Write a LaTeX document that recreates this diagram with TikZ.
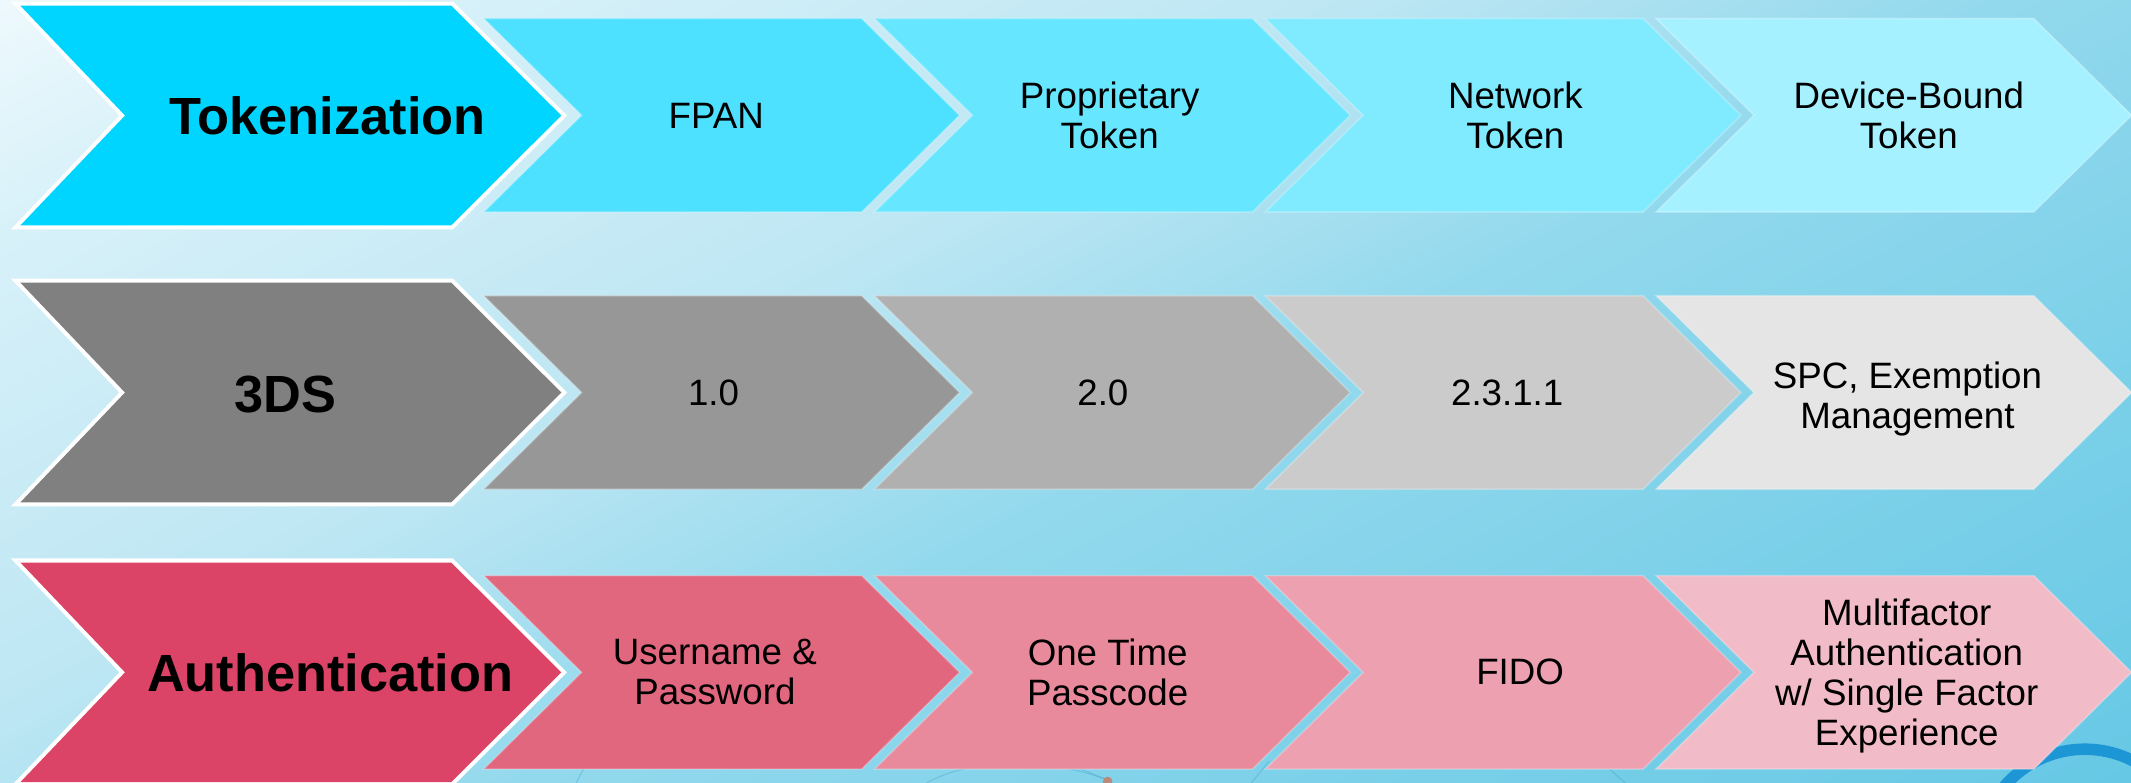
\documentclass[tikz,border=0pt]{standalone}
\usepackage{fontspec}
\setmainfont{Liberation Sans}

% background colours
\definecolor{bg0}{HTML}{EEF9FD}
\definecolor{bg1}{HTML}{D8F1F9}
\definecolor{bg2}{HTML}{BCE6F3}
\definecolor{bg3}{HTML}{93D9ED}
\definecolor{bg4}{HTML}{7ED1E9}
\definecolor{bg5}{HTML}{66C8E5}
% tokenization row
\definecolor{tok0}{HTML}{00D5FF}
\definecolor{tok1}{HTML}{4DE1FF}
\definecolor{tok2}{HTML}{66E6FF}
\definecolor{tok3}{HTML}{80EAFF}
\definecolor{tok4}{HTML}{A6F1FF}
% 3DS row
\definecolor{tds0}{HTML}{808080}
\definecolor{tds1}{HTML}{979797}
\definecolor{tds2}{HTML}{B0B0B0}
\definecolor{tds3}{HTML}{CBCBCB}
\definecolor{tds4}{HTML}{E5E5E5}
% authentication row
\definecolor{aut0}{HTML}{DB4466}
\definecolor{aut1}{HTML}{E1677F}
\definecolor{aut2}{HTML}{E88A9B}
\definecolor{aut3}{HTML}{EDA0B0}
\definecolor{aut4}{HTML}{F2BBC8}
% decorations
\definecolor{ringblue}{HTML}{1C96D4}
\definecolor{netline}{HTML}{3E9EC8}
\definecolor{netdot}{HTML}{B98A7A}

\pgfdeclarehorizontalshading{bgshade}{100bp}{%
  color(0bp)=(bg0); color(25bp)=(bg0); color(31bp)=(bg1); color(44bp)=(bg2);
  color(52.5bp)=(bg3); color(62.5bp)=(bg4); color(75bp)=(bg5); color(100bp)=(bg5)}

% chevron: #1 style, #2 left x, #3 centre y, #4 flat width, #5 half height,
% #6 tip depth, #7 notch depth
\newcommand\chevron[7]{%
  \path[#1] (#2,#3-#5) -- ++(#4,0) -- ++(#6,#5) -- ++(-#6,#5) -- ++(-#4,0)
    -- ++(#7,-#5) -- cycle;}

\tikzset{
  mainlbl/.style={font=\fontsize{38.5}{44}\selectfont\bfseries, text=black, inner sep=0pt},
  sublbl/.style={font=\fontsize{27}{29.5}\selectfont, align=center, text=black, inner sep=0pt},
  rim/.style={draw=white, line width=6pt, line join=miter},
  seam/.style={draw=white, draw opacity=0.25, line width=1.2pt},
  faint/.style={draw=netline, draw opacity=0.35, line width=0.8pt},
}

\begin{document}
\begin{tikzpicture}[x=1pt,y=-1pt]
\useasboundingbox (0,0) rectangle (1568,576);

\begin{scope}
  \clip (0,0) rectangle (1568,576);
  % diagonal background gradient
  \begin{scope}[transform canvas={rotate=-62.2}]
    \shade[shading=bgshade] (0pt,-280pt) rectangle (1245pt,1400pt);
  \end{scope}
  % faint network lines and ring behind the chevrons
  \draw[faint] (423,578) -- (440,545);
  \draw[faint] (676,580) .. controls (705,558) and (770,556) .. (815,574);
  \draw[faint] (815,574) -- (786,562);
  \draw[faint] (919,578) -- (934,560);
  \draw[faint] (1180,562) -- (1198,578);
  \fill[netdot] (815,575) circle[radius=3.5pt];
  \draw[ringblue, line width=8.5pt] (1534,629) circle[radius=77.75pt];
\end{scope}

% ---------- Tokenization row ----------
\chevron{rim}{15}{85}{317}{80.8}{81}{77}
\chevron{fill=tok0}{15}{85}{317}{80.8}{81}{77}
\foreach \i/\c in {0/tok1,1/tok2,2/tok3,3/tok4}
  {\chevron{fill=\c, seam}{356+287.5*\i}{84.8}{278}{71.2}{72}{72}}

\node[mainlbl] (tok) at (241,85) {Tokenization};
\node[sublbl] (fpan) at (527,85) {FPAN};
\node[sublbl] (prop) at (816.5,85) {Proprietary\\Token};
\node[sublbl] (ntok) at (1115,85) {Network\\Token};
\node[sublbl] (dtok) at (1404.5,85) {Device-Bound\\Token};

% ---------- 3DS row ----------
\chevron{rim}{15}{288.8}{317}{80.8}{81}{77}
\chevron{fill=tds0}{15}{288.8}{317}{80.8}{81}{77}
\foreach \i/\c in {0/tds1,1/tds2,2/tds3,3/tds4}
  {\chevron{fill=\c, seam}{356+287.5*\i}{288.8}{278}{71.2}{72}{72}}

\node[mainlbl] (tds) at (210,290) {3DS};
\node[sublbl] (vone) at (525,289) {1.0};
\node[sublbl] (vtwo) at (811.5,289) {2.0};
\node[sublbl] (vtwothree) at (1109,289) {2.3.1.1};
\node[sublbl] (spc) at (1403.5,293.5) {SPC, Exemption\\Management};

% ---------- Authentication row ----------
\chevron{rim}{15}{494.7}{317}{80.8}{81}{77}
\chevron{fill=aut0}{15}{494.7}{317}{80.8}{81}{77}
\foreach \i/\c in {0/aut1,1/aut2,2/aut3,3/aut4}
  {\chevron{fill=\c, seam}{356+287.5*\i}{494.7}{278}{71.2}{72}{72}}

\node[mainlbl] (auth) at (243,495) {Authentication};
\node[sublbl] (upw) at (526,494.7) {Username \&\\Password};
\node[sublbl] (otp) at (815,494.7) {One Time\\Passcode};
\node[sublbl] (fido) at (1118.5,494.7) {FIDO};
\node[sublbl] (mfa) at (1403,497.5) {Multifactor\\Authentication\\w/ Single Factor\\Experience};
\end{tikzpicture}
\end{document}
